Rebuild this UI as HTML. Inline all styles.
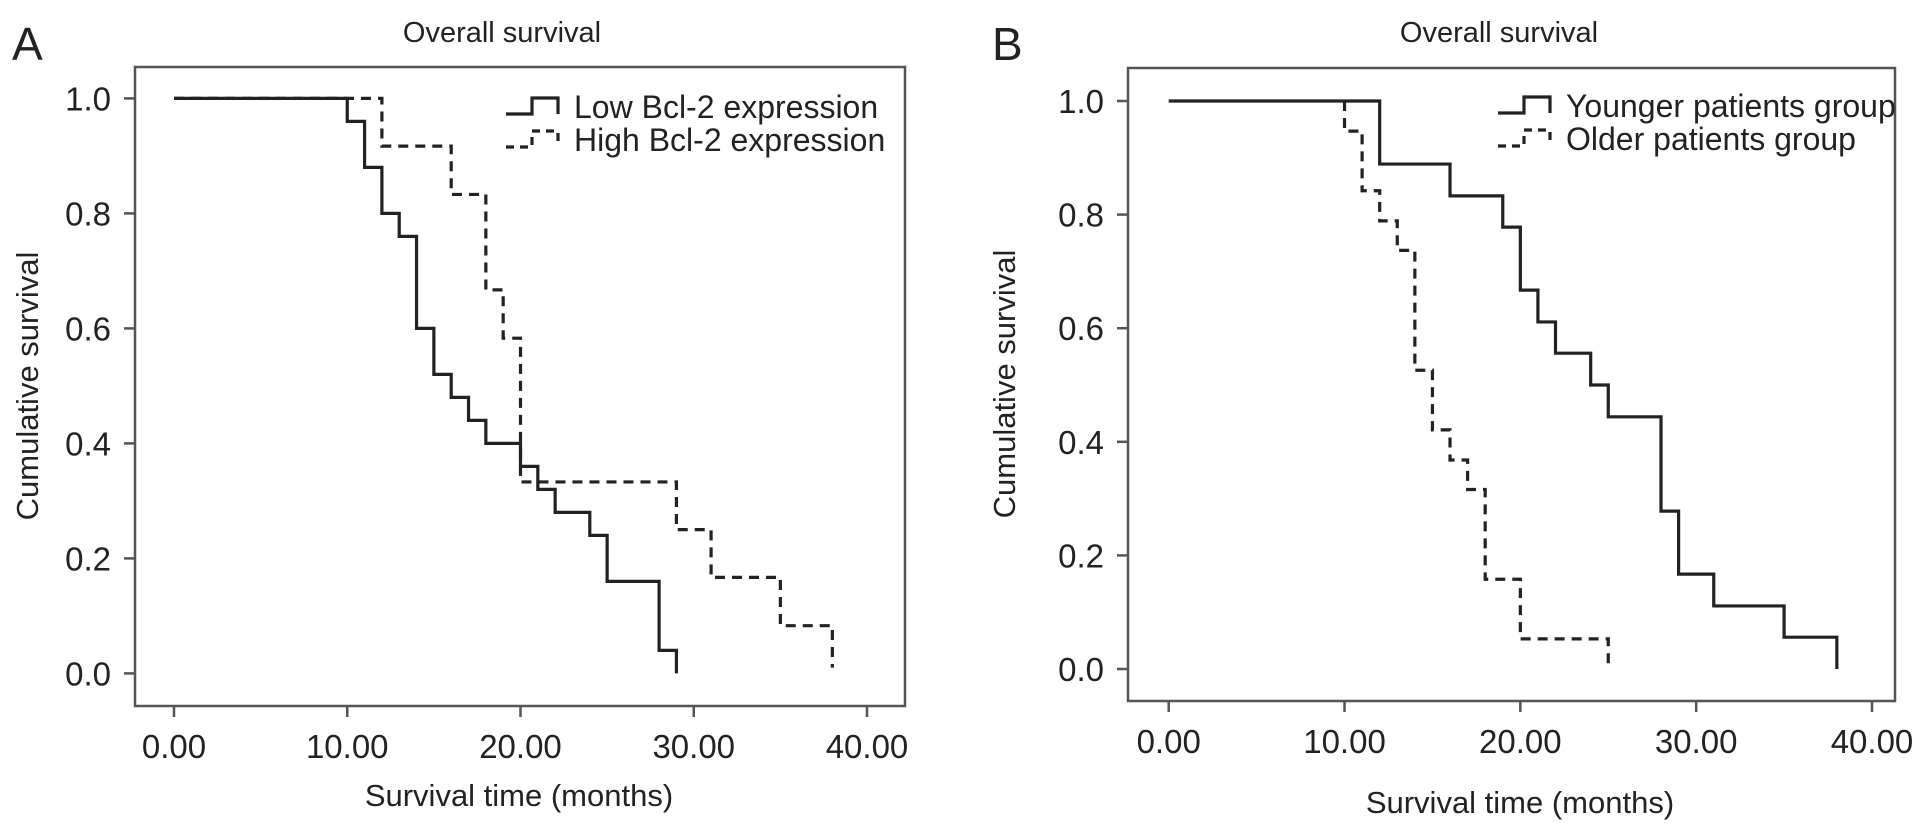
<!DOCTYPE html>
<html><head><meta charset="utf-8">
<style>
html,body{margin:0;padding:0;background:#fff;}
svg{display:block;font-family:"Liberation Sans",sans-serif;fill:#222;}
</style></head>
<body>
<svg id="fig" width="1928" height="834" viewBox="0 0 1928 834"></svg>
<script>
// Panel A data
const aLowTimes = [0,10,11,12,13,14,15,16,17,18,20,21,22,24,25,28,29];
const aLowSurv  = [1.0,0.96,0.88,0.80,0.76,0.60,0.52,0.48,0.44,0.40,0.36,0.32,0.28,0.24,0.16,0.04,0.0];
const aHighTimes = [0,12,16,18,19,20,29,31,35,38];
const aHighSurv  = [1.0,0.917,0.833,0.667,0.583,0.333,0.25,0.167,0.083,0.01];
// Panel B data
const bYoungTimes = [0,12,16,19,20,21,22,24,25,28,29,31,35,38];
const bYoungSurv  = [1.0,0.889,0.833,0.778,0.667,0.611,0.556,0.5,0.444,0.278,0.167,0.111,0.056,0.0];
const bOldTimes = [10,11,12,13,14,15,16,17,18,20,25];
const bOldSurv  = [0.947,0.842,0.789,0.737,0.526,0.421,0.368,0.316,0.158,0.053,0.0];
const xTickVals = [0,10,20,30,40];
const xTickLabels = ["0.00","10.00","20.00","30.00","40.00"];
const yTickVals = [0,0.2,0.4,0.6,0.8,1.0];
const yTickLabels = ["0.0","0.2","0.4","0.6","0.8","1.0"];

const NS="http://www.w3.org/2000/svg";
const svg=document.getElementById('fig');
function mk(tag,attrs,parent){const e=document.createElementNS(NS,tag);for(const k in attrs)e.setAttribute(k,attrs[k]);(parent||svg).appendChild(e);return e;}

function panel(cfg){
  const g=mk('g',{});
  
  
  const xs=v=>cfg.x0+(v/40)*(cfg.x40-cfg.x0);
  const ys=v=>cfg.y0+v*(cfg.y1-cfg.y0);
  const box=mk('rect',{x:cfg.bl,y:cfg.bt,width:cfg.br-cfg.bl,height:cfg.bb-cfg.bt,fill:'none',stroke:'#555','stroke-width':2.5},g);
  
  
  xTickVals.forEach((v,i)=>{
    const l=mk('line',{x1:xs(v),x2:xs(v),y1:cfg.bb,y2:cfg.bb+11,stroke:'#555','stroke-width':2.5},g);
    
    
    const t=mk('text',{x:xs(v),y:cfg.bb+52,'text-anchor':'middle','font-size':33},g);
    t.textContent=xTickLabels[i];
    
    
  });
  yTickVals.forEach((v,i)=>{
    const l=mk('line',{x1:cfg.bl-11,x2:cfg.bl,y1:ys(v),y2:ys(v),stroke:'#555','stroke-width':2.5},g);
    
    
    const t=mk('text',{x:cfg.bl-24,y:ys(v)+12,'text-anchor':'end','font-size':33},g);
    t.textContent=yTickLabels[i];
    
    
  });
  const tt=mk('text',{x:cfg.titleX,y:42,'text-anchor':'middle','font-size':29},g);
  tt.textContent='Overall survival';
  
  
  const xt=mk('text',{x:cfg.xtX,y:cfg.xtY,'text-anchor':'middle','font-size':31},g);
  xt.textContent='Survival time (months)';
  
  
  const yt=mk('text',{x:0,y:0,'text-anchor':'middle','font-size':31,transform:`translate(${cfg.ytX},${cfg.ytY}) rotate(-90)`},g);
  yt.textContent='Cumulative survival';
  
  
  const lt=mk('text',{x:cfg.letX,y:60,'font-size':46},g);
  lt.textContent=cfg.letter;
  
  
  function step(times,surv,dashed,startY,nm){
    let d='';
    if(startY!==null){d=`M${xs(times[0])},${ys(startY)} L${xs(times[0])},${ys(surv[0])}`;}
    else d=`M${xs(times[0])},${ys(surv[0])}`;
    for(let i=1;i<times.length;i++){d+=` L${xs(times[i])},${ys(surv[i-1])} L${xs(times[i])},${ys(surv[i])}`;}
    const p=mk('path',{d:d,fill:'none',stroke:'#222','stroke-width':3.2,'stroke-dasharray':dashed?'10 7':'none'},g);
    
    
  }
  cfg.series.forEach(s=>step(s.t,s.s,s.dash,s.start,s.name));
  cfg.legend.forEach((lab,i)=>{
    const y=cfg.legY[i];
    const d=`M${cfg.legX},${y+8} L${cfg.legX+26},${y+8} L${cfg.legX+26},${y-8} L${cfg.legX+52},${y-8} L${cfg.legX+52},${y+8}`;
    const p=mk('path',{d:d,fill:'none',stroke:'#222','stroke-width':3.2,'stroke-dasharray':i?'8 6':'none'},g);
    
    
    const t=mk('text',{x:cfg.legX+68,y:y+12,'font-size':32},g);
    t.textContent=lab;
    
    
  });
}
panel({name:'panel-a',letter:'A',letX:12,bl:135,br:905,bt:67,bb:706,x0:174,x40:867,y0:673.4,y1:98.4,
  titleX:502,xtX:519,xtY:806,ytX:38,ytY:386,legX:506,legY:106,
  legY:[106,139],legend:['Low Bcl-2 expression','High Bcl-2 expression'],
  series:[{t:aHighTimes,s:aHighSurv,dash:true,start:null,name:'high-bcl2-curve'},{t:aLowTimes,s:aLowSurv,dash:false,start:null,name:'low-bcl2-curve'}]});
panel({name:'panel-b',letter:'B',letX:992,bl:1128,br:1895,bt:68,bb:701,x0:1168.7,x40:1872,y0:669,y1:101,
  titleX:1499,xtX:1520,xtY:813,ytX:1015,ytY:384,legX:1498,
  legY:[105,138],legend:['Younger patients group','Older patients group'],
  series:[{t:bOldTimes,s:bOldSurv,dash:true,start:1.0,name:'older-group-curve'},{t:bYoungTimes,s:bYoungSurv,dash:false,start:null,name:'younger-group-curve'}]});
</script>
</body></html>
